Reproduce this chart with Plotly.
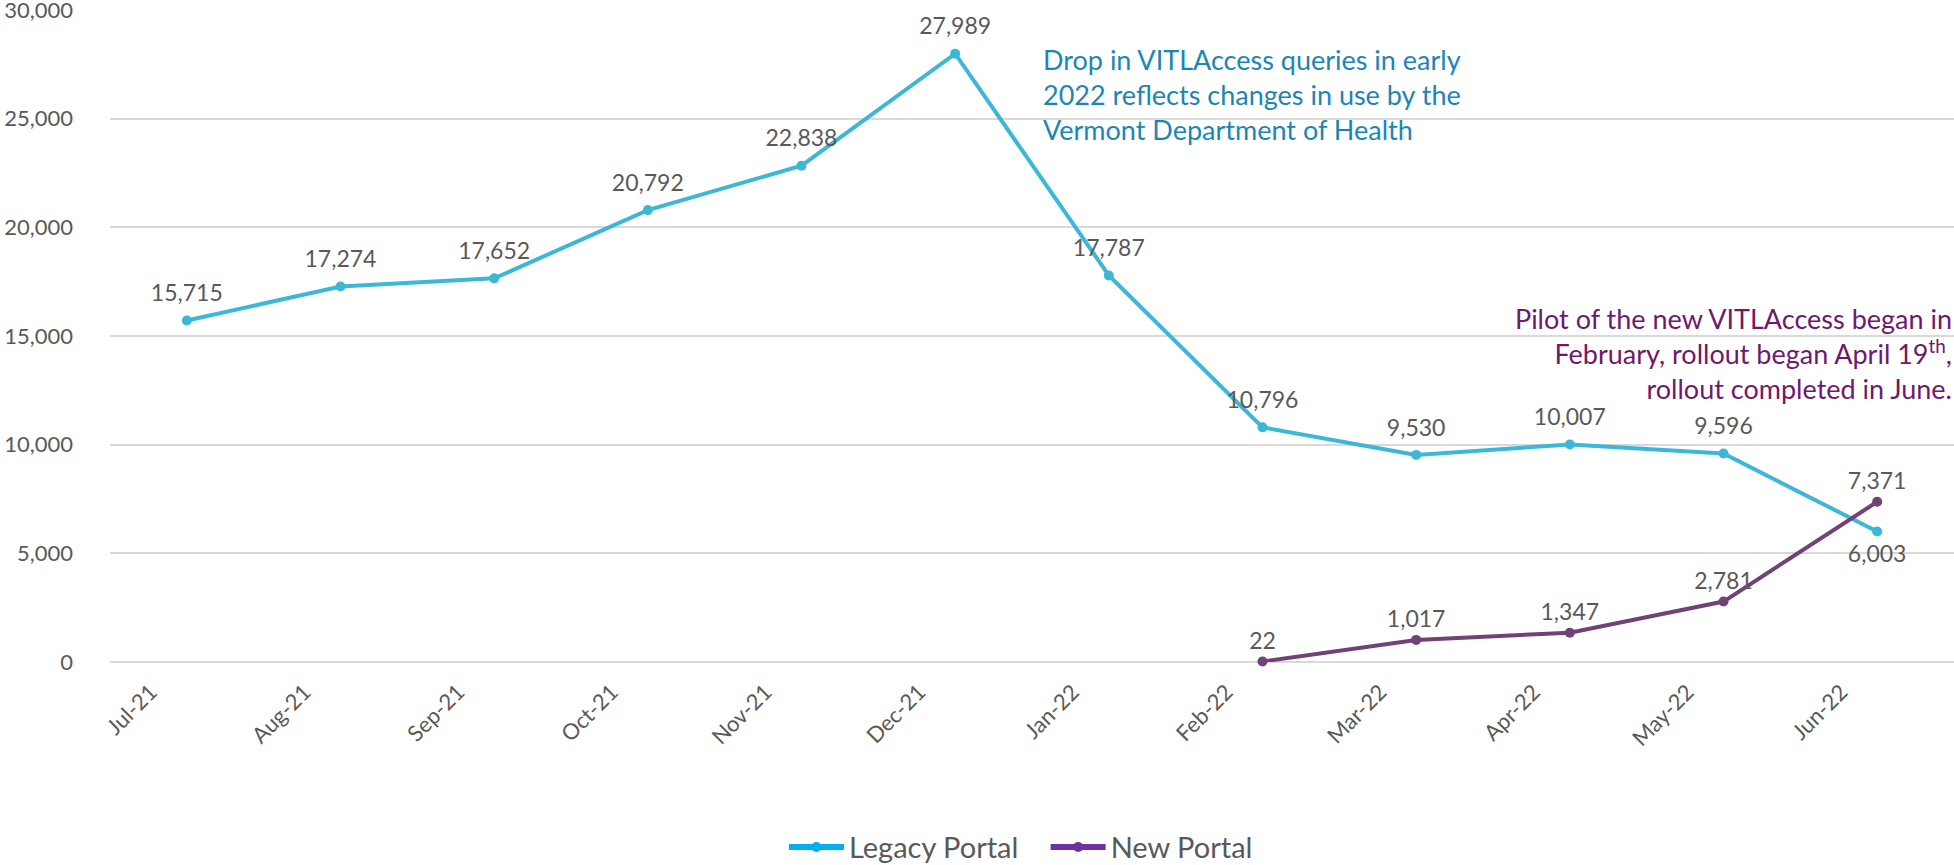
import plotly.graph_objects as go

months = ["Jul-21", "Aug-21", "Sep-21", "Oct-21", "Nov-21", "Dec-21",
          "Jan-22", "Feb-22", "Mar-22", "Apr-22", "May-22", "Jun-22"]
legacy = [15715, 17274, 17652, 20792, 22838, 27989, 17787, 10796, 9530, 10007, 9596, 6003]
new_months = ["Feb-22", "Mar-22", "Apr-22", "May-22", "Jun-22"]
new_portal = [22, 1017, 1347, 2781, 7371]

legacy_pos = ["top center"] * 11 + ["bottom center"]
new_pos = ["top center"] * 5

FONT = "Lato, 'Open Sans', sans-serif"
GRAY = "#595959"

fig = go.Figure()
fig.add_trace(go.Scatter(
    x=months, y=legacy, mode="lines+markers", name="Legacy Portal",
    line=dict(color="#3DB7D8", width=4), marker=dict(size=10, color="#3DB7D8"),
    showlegend=False))
# legacy data labels (invisible larger markers give a slightly larger label offset)
fig.add_trace(go.Scatter(
    x=months, y=legacy, mode="markers+text", name="Legacy Portal labels",
    marker=dict(size=20, color="rgba(0,0,0,0)"),
    text=[f"{v:,}" for v in legacy], textposition=legacy_pos,
    textfont=dict(family=FONT, size=23, color=GRAY),
    cliponaxis=False, showlegend=False, hoverinfo="skip"))
fig.add_trace(go.Scatter(
    x=new_months, y=new_portal, mode="lines+markers+text", name="New Portal",
    line=dict(color="#714275", width=4), marker=dict(size=10, color="#714275"),
    text=[f"{v:,}" for v in new_portal], textposition=new_pos,
    textfont=dict(family=FONT, size=23, color=GRAY),
    cliponaxis=False, showlegend=False))
# legend entries
fig.add_trace(go.Scatter(x=[None], y=[None], mode="lines+markers",
                         name="Legacy Portal" + "\u00a0" * 3,
                         line=dict(color="#00B0F0", width=6), marker=dict(size=10, color="#00B0F0")))
fig.add_trace(go.Scatter(x=[None], y=[None], mode="lines+markers", name="New Portal",
                         line=dict(color="#7030A0", width=6), marker=dict(size=10, color="#7030A0")))

fig.add_annotation(
    text="Drop in VITLAccess queries in early<br>2022 reflects changes in use by the<br>Vermont Department of Health",
    xref="paper", yref="paper", x=0.505, y=0.953, xanchor="left", yanchor="top",
    align="left", showarrow=False, font=dict(family=FONT, size=27, color="#1B86B6"))
fig.add_annotation(
    text="Pilot of the new VITLAccess began in<br>February, rollout began April 19<sup>th</sup>,<br>rollout completed in June.",
    xref="paper", yref="paper", x=1.0, y=0.555, xanchor="right", yanchor="top",
    align="right", showarrow=False, font=dict(family=FONT, size=27, color="#701870"))

fig.update_layout(
    width=1954, height=865,
    margin=dict(l=110, r=0, t=10, b=203, autoexpand=False),
    paper_bgcolor="white", plot_bgcolor="white",
    font=dict(family=FONT, color=GRAY),
    xaxis=dict(type="category", categoryorder="array", categoryarray=months,
               range=[-0.5, 11.5], showgrid=False, showline=False, zeroline=False,
               tickangle=-45, tickfont=dict(family=FONT, size=22, color=GRAY),
               ticklabelstandoff=12, ticklabelshift=-36, automargin=False),
    yaxis=dict(range=[0, 30000], dtick=5000, tickformat=",", showline=False,
               gridcolor="#D9D9D9", gridwidth=1.5, zeroline=True,
               zerolinecolor="#D9D9D9", zerolinewidth=1.5,
               tickfont=dict(family=FONT, size=22, color=GRAY),
               ticklabelstandoff=36, ticklabeloverflow="allow", automargin=False),
    legend=dict(orientation="h", x=0.494, y=-0.284, xanchor="center", yanchor="middle",
                font=dict(family=FONT, size=29, color=GRAY), itemwidth=55,
                traceorder="normal"),
)

fig.write_html("out.html", config={"displayModeBar": False},
               post_script="document.body.style.margin='0';document.body.style.overflow='hidden';")
